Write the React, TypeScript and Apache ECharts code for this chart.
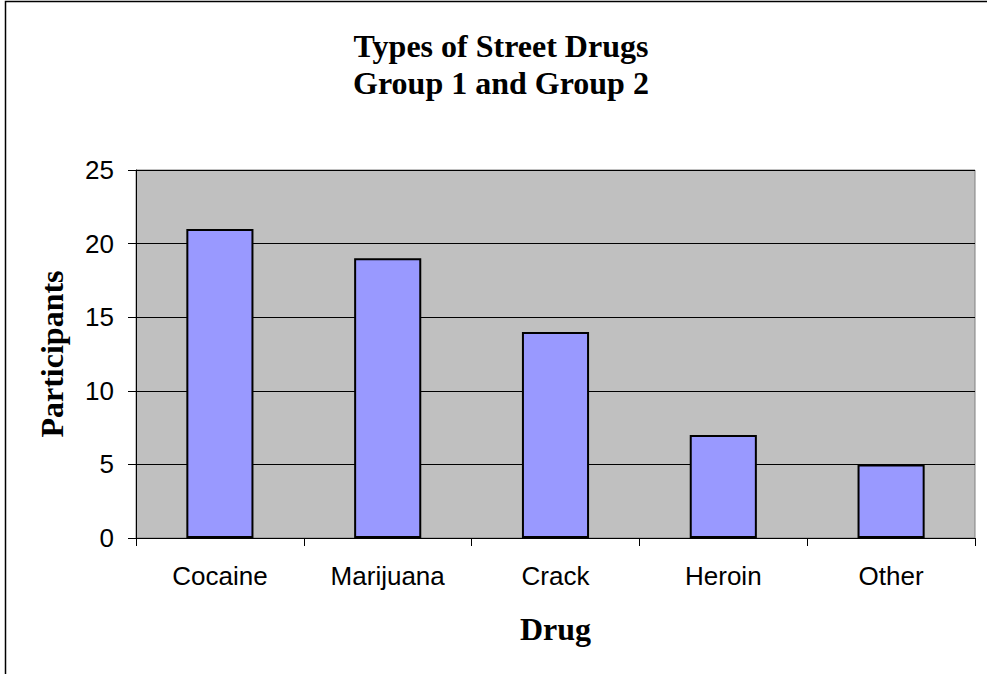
import React, { useEffect, useRef } from "react";
import * as echarts from "echarts";

const categories = ["Cocaine", "Marijuana", "Crack", "Heroin", "Other"];
const participants = [21, 19, 14, 7, 5];
const yTicks = { min: 0, max: 25, interval: 5 };

export default function App() {
  const ref = useRef<HTMLDivElement>(null);
  useEffect(() => {
    if (!ref.current) return;
    const chart = echarts.init(ref.current, null, { renderer: "svg" });
    chart.setOption({
      animation: false,
      backgroundColor: "#ffffff",
      title: {
        text: "Types of Street Drugs\nGroup 1 and Group 2",
        left: 496,
        textAlign: "center",
        top: 22,
        textStyle: {
          fontFamily: "Liberation Serif",
          fontWeight: "bold",
          fontSize: 32,
          lineHeight: 37,
          color: "#000",
        },
      },
      graphic: [
        {
          type: "rect",
          shape: { x: 5.5, y: 1.5, width: 1100, height: 800 },
          style: { fill: "none", stroke: "#000", lineWidth: 1.5 },
          silent: true,
          z: 100,
        },
      ],
      grid: {
        left: 136,
        top: 170,
        width: 839,
        height: 368,
        show: true,
        backgroundColor: "#C0C0C0",
        borderColor: "#808080",
        borderWidth: 1,
      },
      xAxis: {
        type: "category",
        data: categories,
        name: "Drug",
        nameLocation: "middle",
        nameGap: 75,
        nameTextStyle: {
          fontFamily: "Liberation Serif",
          fontWeight: "bold",
          fontSize: 32,
          color: "#000",
        },
        axisLine: { show: true, lineStyle: { color: "#000", width: 1 } },
        axisTick: { show: true, alignWithLabel: false, length: 8, lineStyle: { color: "#000" } },
        axisLabel: {
          fontFamily: "Liberation Sans",
          fontSize: 26,
          color: "#000",
          margin: 25,
        },
      },
      yAxis: {
        type: "value",
        min: yTicks.min,
        max: yTicks.max,
        interval: yTicks.interval,
        name: "Participants",
        nameLocation: "middle",
        nameGap: 68,
        nameRotate: 90,
        nameTextStyle: {
          fontFamily: "Liberation Serif",
          fontWeight: "bold",
          fontSize: 32,
          color: "#000",
        },
        axisLine: { show: true, lineStyle: { color: "#000", width: 1 } },
        axisTick: { show: true, length: 8, lineStyle: { color: "#000" } },
        axisLabel: {
          fontFamily: "Liberation Sans",
          fontSize: 26,
          color: "#000",
          margin: 22,
        },
        splitLine: { show: true, lineStyle: { color: "#000", width: 1 } },
      },
      series: [
        {
          type: "bar",
          data: participants,
          barWidth: "40%",
          itemStyle: {
            color: "#9999FF",
            borderColor: "#000",
            borderWidth: 2,
          },
        },
      ],
    });
    return () => chart.dispose();
  }, []);
  return (
    <div
      ref={ref}
      style={{ position: "fixed", left: 0, top: 0, width: 987, height: 674 }}
    />
  );
}
